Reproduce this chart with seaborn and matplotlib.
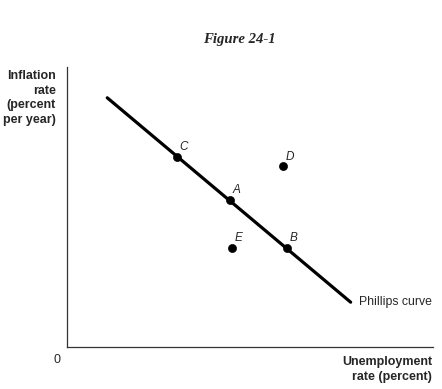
import matplotlib
matplotlib.use('Agg')
import matplotlib.pyplot as plt
import seaborn as sns
import pandas as pd

sns.set_style('white')
plt.rcParams['font.family'] = ['Liberation Sans', 'DejaVu Sans']

# Phillips curve end points (arbitrary axis units 0-10)
curve_x = [1.1, 7.75]
curve_y = [8.9, 1.6]

# labelled points
point_names = ['C', 'A', 'B', 'D', 'E']
point_x = [3.0, 4.45, 6.0, 5.9, 4.5]
point_y = [6.8, 5.25, 3.55, 6.45, 3.55]

curve = pd.DataFrame({'x': curve_x, 'y': curve_y})
points = pd.DataFrame({'name': point_names, 'x': point_x, 'y': point_y})

W, H = 442, 389
fig = plt.figure(figsize=(W / 100, H / 100), dpi=100)
ax = fig.add_axes([67 / W, (H - 347) / H, (433 - 67) / W, (347 - 67) / H])

sns.lineplot(data=curve, x='x', y='y', color='black', linewidth=2.3, ax=ax)
sns.scatterplot(data=points, x='x', y='y', color='black', s=34, edgecolor='black', zorder=3, ax=ax)

for _, r in points.iterrows():
    ax.annotate(r['name'], (r['x'], r['y']), xytext=(5, 7), textcoords='offset points',
                ha='center', va='center', fontsize=8.5, fontstyle='italic')

ax.annotate('Phillips curve', (curve_x[1], curve_y[1]), xytext=(6, 0), textcoords='offset points',
            ha='left', va='center', fontsize=8.8)

ax.set_xlim(0, 10)
ax.set_ylim(0, 10)
ax.set_xticks([])
ax.set_yticks([])
ax.set_xlabel('')
ax.set_ylabel('')
sns.despine(ax=ax)
for s in ['left', 'bottom']:
    ax.spines[s].set_color('#333333')
    ax.spines[s].set_linewidth(0.9)

fig.text(239 / W, 1 - 39 / H, 'Figure 24-1', ha='center', va='center', fontsize=10.6,
         fontweight='bold', fontstyle='italic', family=['Liberation Serif', 'DejaVu Serif'])
fig.text(56 / W, 1 - 98 / H, 'Inflation\nrate\n(percent\nper year)', ha='right', va='center',
         fontsize=9, fontweight='bold', linespacing=1.3)
fig.text(57 / W, 1 - 360 / H, '0', ha='center', va='center', fontsize=9)
fig.text(432 / W, 1 - 369.5 / H, 'Unemployment\nrate (percent)', ha='right', va='center',
         fontsize=9, fontweight='bold', linespacing=1.3)

fig.savefig('out.png', dpi=100)
